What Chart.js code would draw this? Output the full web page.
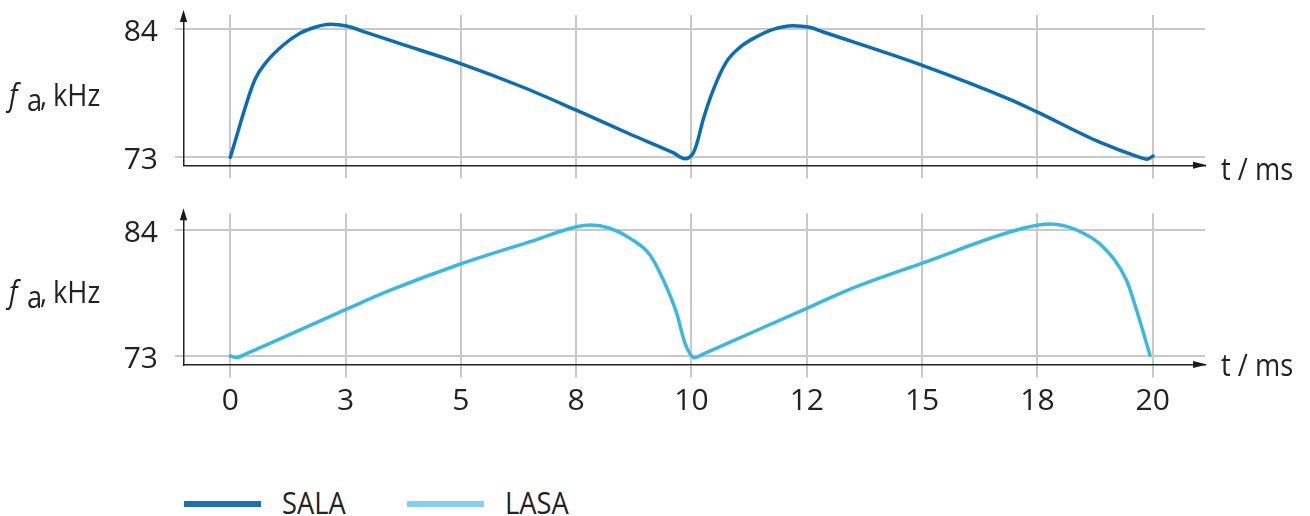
<!DOCTYPE html>
<html lang="en">
<head>
  <meta charset="UTF-8">
  <title>SALA / LASA frequency</title>
  <script src="https://cdn.jsdelivr.net/npm/chart.js"></script>
  <style>
    body { margin: 0; background: #fff; width: 1310px; height: 516px; overflow: hidden; position: relative;
           font-family: 'Open Sans', sans-serif; color: #222; }
    canvas { position: absolute; left: 0; }
    .txt { position: absolute; font-size: 31px; line-height: 31px; white-space: nowrap;
           transform: scaleX(0.88); transform-origin: left top; }
    .key { position: absolute; height: 6px; width: 77px; }
  </style>
</head>
<body>
  <canvas id="topChart" width="1310" height="200" style="top:0"></canvas>
  <canvas id="bottomChart" width="1310" height="240" style="top:200px"></canvas>

  <div class="txt" style="left:9px;top:78.5px"><i>f</i></div>
  <div class="txt" style="left:27px;top:84.2px">a</div>
  <div class="txt" style="left:40px;top:78.5px">,</div>
  <div class="txt" style="left:53px;top:78.5px">kHz</div>
  <div class="txt" style="left:9px;top:275.5px"><i>f</i></div>
  <div class="txt" style="left:27px;top:281.2px">a</div>
  <div class="txt" style="left:40px;top:275.5px">,</div>
  <div class="txt" style="left:53px;top:275.5px">kHz</div>
  <div class="txt" style="left:1221px;top:152.5px">t / ms</div>
  <div class="txt" style="left:1221px;top:349.2px">t / ms</div>

  <div id="legend"></div>

  <script>
    // x ticks: labels as printed (rounded half-steps)
    const xTicks = [0, 2.5, 5, 7.5, 10, 12.5, 15, 17.5, 20];
    const xLabels = ['0', '3', '5', '8', '10', '12', '15', '18', '20'];
    const yTicks = [73, 84];

    const seriesNames = ['SALA', 'LASA'];
    const lineColors = ['#0b6db3', '#3ab8e0'];
    const keyColors = ['#1b70b6', '#82cff2'];

    // SALA: t in ms, f in kHz
    const salaT = [0, 0.53, 0.79, 1.15, 1.51, 1.87, 2.16, 2.52, 2.96, 3.68, 4.98, 6.35, 7.49, 8.66, 9.6,
                   9.86, 10.03, 10.12, 10.25, 10.47, 10.76, 11.05, 11.41, 11.77, 12.2, 12.56, 12.86,
                   14.99, 16.9, 17.48, 18.85, 19.72, 19.87, 20.01];
    const salaF = [73.0, 79.64, 81.22, 82.65, 83.66, 84.22, 84.43, 84.28, 83.71, 82.77, 81.08, 79.02, 77.07, 75.0, 73.4,
                   72.88, 73.33, 74.23, 76.2, 78.78, 81.22, 82.45, 83.36, 84.0, 84.31, 84.17, 83.77,
                   80.93, 77.98, 76.92, 74.3, 73.0, 72.83, 73.11];

    // LASA
    const lasaT = [0, 0.14, 0.28, 2.51, 3.39, 4.99, 6.5, 7.51, 7.8, 8.23, 8.67, 9.1, 9.39, 9.68, 9.86,
                   10.07, 10.25, 12.5, 13.43, 14.99, 17.19, 17.77, 18.35, 18.92, 19.43, 19.65, 19.94];
    const lasaF = [73.0, 72.85, 73.08, 77.07, 78.61, 81.03, 82.98, 84.29, 84.44, 84.15, 83.27, 81.82, 79.63, 76.72, 74.1,
                   72.84, 73.17, 77.16, 78.82, 81.09, 84.15, 84.52, 84.0, 82.54, 79.63, 77.01, 73.08];

    const toPoints = (t, f) => t.map((v, i) => ({ x: v, y: f[i] }));

    // arrowheads on both axes
    const axisArrows = {
      id: 'axisArrows',
      afterDraw(chart) {
        const { ctx, chartArea: a } = chart;
        ctx.save();
        ctx.fillStyle = '#1a1a1a';
        ctx.beginPath();
        ctx.moveTo(a.left, a.top - 5);
        ctx.lineTo(a.left - 3.7, a.top + 7);
        ctx.lineTo(a.left + 3.7, a.top + 7);
        ctx.closePath();
        ctx.fill();
        ctx.beginPath();
        ctx.moveTo(a.right + 2, a.bottom);
        ctx.lineTo(a.right - 12, a.bottom - 3.5);
        ctx.lineTo(a.right - 12, a.bottom + 3.5);
        ctx.closePath();
        ctx.fill();
        ctx.restore();
      }
    };

    function makeChart(id, name, color, t, f, opts) {
      const tickFont = { family: "'Open Sans', sans-serif", size: 30 };
      return new Chart(document.getElementById(id), {
        type: 'line',
        data: {
          datasets: [{
            label: name,
            data: toPoints(t, f),
            borderColor: color,
            borderWidth: 3.5,
            borderCapStyle: 'round',
            borderJoinStyle: 'round',
            cubicInterpolationMode: 'monotone',
            pointRadius: 0,
            fill: false
          }]
        },
        options: {
          responsive: false,
          animation: false,
          layout: { padding: { top: opts.padTop, right: 105, left: 0, bottom: 0 } },
          plugins: { legend: { display: false }, tooltip: { enabled: false } },
          scales: {
            x: {
              type: 'linear',
              min: -1.0147,
              max: 21.134,
              afterBuildTicks: s => { s.ticks = xTicks.map(v => ({ value: v })); },
              afterFit: s => { s.height = opts.xHeight; s.paddingLeft = 0; s.paddingRight = 0; },
              grid: { color: '#c8c8c8', lineWidth: 2, drawTicks: true, tickLength: 13 },
              border: { color: '#222', width: 1.5 },
              ticks: {
                display: opts.showX,
                color: '#222',
                font: tickFont,
                padding: 6,
                maxRotation: 0,
                autoSkip: false,
                callback: (v, i) => xLabels[i]
              }
            },
            y: {
              min: opts.yMin,
              max: opts.yMax,
              afterBuildTicks: s => { s.ticks = yTicks.map(v => ({ value: v })); },
              afterFit: s => { s.width = 183.5; s.paddingTop = 0; s.paddingBottom = 0; },
              grid: { color: '#c8c8c8', lineWidth: 2, drawTicks: true, tickLength: 8.5 },
              border: { color: '#222', width: 1.5 },
              ticks: { color: '#222', font: tickFont, padding: 17, labelOffset: 3.5, callback: v => String(v) }
            }
          }
        },
        plugins: [axisArrows]
      });
    }

    makeChart('topChart', seriesNames[0], lineColors[0], salaT, salaF,
      { padTop: 15, xHeight: 34.7, showX: false, yMin: 72.312, yMax: 85.229 });
    makeChart('bottomChart', seriesNames[1], lineColors[1], lasaT, lasaF,
      { padTop: 13.3, xHeight: 75.5, showX: true, yMin: 72.258, yMax: 85.458 });

    // legend
    const legend = document.getElementById('legend');
    const keyLeft = [184, 407];
    const textLeft = [281.5, 504.5];
    seriesNames.forEach((n, i) => {
      const k = document.createElement('div');
      k.className = 'key';
      k.style.left = keyLeft[i] + 'px';
      k.style.top = '501px';
      k.style.background = keyColors[i];
      legend.appendChild(k);
      const tx = document.createElement('div');
      tx.className = 'txt';
      tx.style.left = textLeft[i] + 'px';
      tx.style.top = '486.6px';
      tx.textContent = n;
      legend.appendChild(tx);
    });
  </script>
</body>
</html>
